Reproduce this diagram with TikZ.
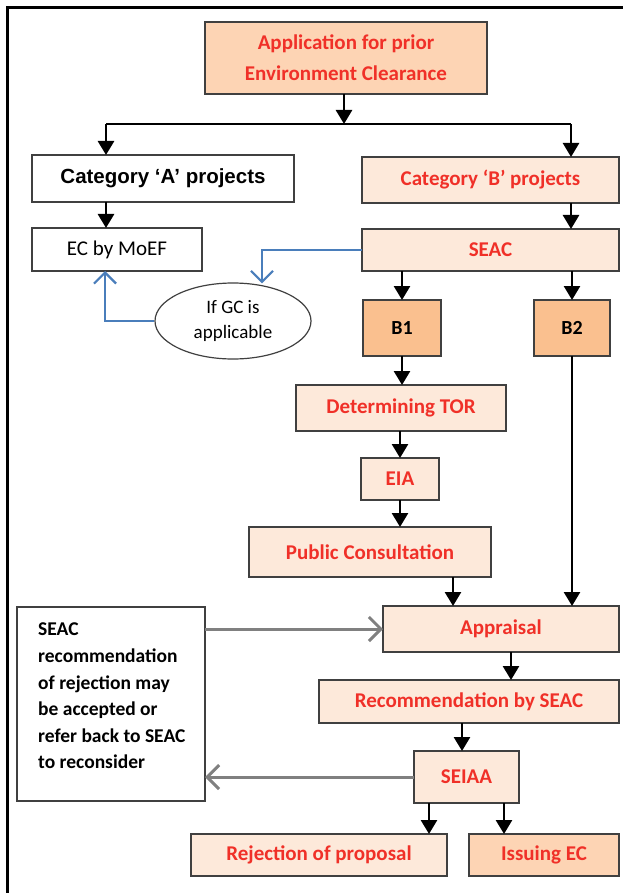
\documentclass[tikz,border=0pt]{standalone}
\usepackage{fontspec}
\setmainfont{Carlito}
\newfontfamily\arialfont{Liberation Sans}
\usetikzlibrary{arrows.meta,shapes.geometric,calc}
\definecolor{redtxt}{RGB}{240,48,40}
\definecolor{peach}{RGB}{253,212,180}
\definecolor{lightpeach}{RGB}{253,233,218}
\definecolor{orangefill}{RGB}{250,192,143}
\definecolor{edge}{RGB}{64,64,64}
\definecolor{bluelink}{RGB}{74,126,187}
\definecolor{graylink}{RGB}{128,128,128}
\tikzset{
  box/.style={draw=edge, line width=2.2pt, inner sep=0pt, outer sep=0pt, align=center},
  redbox/.style={box, fill=lightpeach, text=redtxt, font=\bfseries\fontsize{21}{26}\selectfont},
  flow/.style={line width=2.6pt, -{Triangle[width=16pt,length=14pt]}},
  plain/.style={line width=2.6pt},
  bluearrow/.style={draw=bluelink, line width=2.2pt, -{Straight Barb[width=22pt,length=11pt,line width=2.2pt]}},
  grayarrow/.style={draw=graylink, line width=3pt, -{Straight Barb[width=24pt,length=12pt,line width=3pt]}},
}
% box given by its corners (x1,y1) and (x2,y2)
\newcommand{\cornerbox}[6]{%
  \node[#1, minimum width={#5-#3}, minimum height={#6-#4}] (#2) at ({(#3+#5)/2},{(#4+#6)/2})}
\begin{document}
\begin{tikzpicture}[x=1pt,y=-1pt]
\useasboundingbox (0,0) rectangle (623,893);
\fill[white] (0,0) rectangle (623,893);
% outer frame
\draw[line width=3pt] (7,893) -- (7,8) -- (623,8);

\cornerbox{redbox, fill=peach, font=\bfseries\fontsize{21}{31}\selectfont}{app}{205}{22}{487}{94}{Application for prior\\Environment Clearance};
\cornerbox{box, fill=white, font=\arialfont\bfseries\fontsize{20.5}{24}\selectfont}{catA}{32}{155}{294}{202}{Category ‘A’ projects};
\cornerbox{box, fill=white, font=\fontsize{21}{24}\selectfont}{ecm}{32}{228}{202}{271}{EC by MoEF};
\cornerbox{redbox}{catB}{362}{157}{619}{203}{Category ‘B’ projects};
\cornerbox{redbox}{seac}{362}{229}{619}{271}{SEAC};
\node[draw=edge, line width=1.2pt, ellipse, minimum width=156pt, minimum height=76pt, inner sep=0pt,
      align=center, font=\fontsize{19}{25}\selectfont] (gc) at (233,321) {If GC is\\applicable};
\cornerbox{box, fill=orangefill, font=\bfseries\fontsize{20}{24}\selectfont}{bone}{363}{300}{441}{356}{B1};
\cornerbox{box, fill=orangefill, font=\bfseries\fontsize{20}{24}\selectfont}{btwo}{534}{300}{610}{356}{B2};
\cornerbox{redbox}{tor}{296}{385}{506}{431}{Determining TOR};
\cornerbox{redbox}{eia}{361}{458}{439}{500}{EIA};
\cornerbox{redbox}{pc}{249}{527}{491}{577}{Public Consultation};
\cornerbox{redbox}{appr}{383}{606}{619}{652}{Appraisal};
\cornerbox{box, fill=white}{lbox}{17}{607}{205}{801}{};
\node[anchor=north west, inner sep=0pt, align=left, font=\bfseries\fontsize{19.5}{26.6}\selectfont] (lboxtext) at (38,623)
  {SEAC\\recommendation\\of rejection may\\be accepted or\\refer back to SEAC\\to reconsider};
\cornerbox{redbox}{rec}{319}{680}{619}{723}{Recommendation by SEAC};
\cornerbox{redbox}{seiaa}{414}{751}{519}{803}{SEIAA};
\cornerbox{redbox}{rej}{191}{834}{447}{876}{Rejection of proposal};
\cornerbox{redbox, fill=peach}{iss}{469}{834}{619}{876}{Issuing EC};

% split below the application
\coordinate (split) at (344,124);
\coordinate (splitL) at (106,124);
\coordinate (splitR) at (571,124);
\draw[flow] (app.south -| split) -- (split);
\draw[plain] (splitL) -- (splitR);
\draw[flow] (splitL) -- (catA.north -| splitL);
\draw[flow] (splitR) -- (catB.north -| splitR);
\draw[flow] (catA.south -| splitL) -- (ecm.north -| splitL);
\draw[flow] (catB.south -| splitR) -- (seac.north -| splitR);

% general conditions loop
\draw[bluearrow] (seac.west) -| ($(gc.north)+(29,1)$);
\draw[bluearrow] (gc.west) -| ($(ecm.south)+(-12,0)$);

% category B branches
\draw[flow] (seac.south -| bone) -- (bone.north);
\draw[flow] (seac.south -| btwo) -- (btwo.north);
\draw[flow] (bone.south) -- (tor.north -| bone);
\draw[flow] (tor.south -| eia) -- (eia.north);
\draw[flow] (eia.south) -- (pc.north -| eia);
\coordinate (pcout) at (453,577);
\draw[flow] (pcout) -- (appr.north -| pcout);
\draw[flow] (btwo.south) -- (appr.north -| btwo);

% appraisal and decision
\draw[grayarrow] (lbox.east |- appr.west) -- (appr.west);
\coordinate (approut) at (511,652);
\draw[flow] (approut) -- (rec.north -| approut);
\coordinate (recout) at (462,723);
\draw[flow] (recout) -- (seiaa.north -| recout);
\draw[grayarrow] (seiaa.west) -- (lbox.east |- seiaa.west);
\coordinate (rejout) at (429,803);
\coordinate (issout) at (504,803);
\draw[flow] (rejout) -- (rej.north -| rejout);
\draw[flow] (issout) -- (iss.north -| issout);
\end{tikzpicture}
\end{document}
